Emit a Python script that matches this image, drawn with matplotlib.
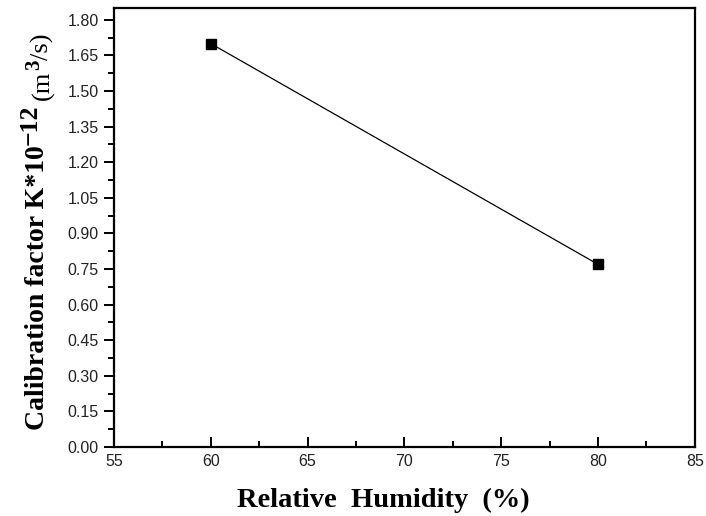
import matplotlib
import numpy as np

matplotlib.use("Agg")

from matplotlib import pyplot as plt  # noqa: E402
from matplotlib.ticker import MultipleLocator  # noqa: E402

humidity = [60, 80]
calib_factor = [1.70, 0.77]

x_ticks = [55, 60, 65, 70, 75, 80, 85]
y_ticks = np.round(np.arange(0, 1.81, 0.15), 2)

W, H = 706, 516

fig = plt.figure(figsize=(W / 100, H / 100), dpi=100)
ax = fig.add_axes([0.1615, 0.1337, 0.8225, 0.8508])

ax.plot(humidity, calib_factor, color="black", linewidth=0.9,
        marker="s", markersize=7, markerfacecolor="black")

ax.set_xlim(55, 85)
ax.set_ylim(0, 1.85)
ax.set_xticks(x_ticks)
ax.set_yticks(y_ticks)
ax.set_yticklabels([f"{v:.2f}" for v in y_ticks])
ax.xaxis.set_minor_locator(MultipleLocator(2.5))
ax.yaxis.set_minor_locator(MultipleLocator(0.075))

for side in ["top", "bottom", "left", "right"]:
    ax.spines[side].set_linewidth(1.6)

ax.tick_params(axis="x", which="both", direction="in", top=False, width=1.4,
               labelsize=11.5, pad=5, labelcolor="#222222")
ax.tick_params(axis="x", which="major", length=7)
ax.tick_params(axis="x", which="minor", length=4)
ax.tick_params(axis="y", which="both", direction="out", right=False, width=1.4,
               labelsize=11.5, pad=4, labelcolor="#222222")
ax.tick_params(axis="y", which="major", length=7)
ax.tick_params(axis="y", which="minor", length=4)

for lab in ax.get_xticklabels() + ax.get_yticklabels():
    lab.set_fontfamily("Liberation Sans")

# x label, placed in pixels
fig.text(383.5 / W, 1 - 507 / H, "Relative  Humidity  (%)",
         family="Liberation Serif", fontweight="bold", fontsize=20.5,
         ha="center", va="baseline")

# y label built from pieces so the superscripts keep their size
pieces = [
    ("Calibration factor K*10", "bold", 20, 44, 0),
    ("\u221212", "bold", 18.5, 37, 0),
    ("(m", "normal", 19, 49, 5),
    ("3", "bold", 15, 39, 0),
    ("/s)", "normal", 19, 49, 0),
]
renderer = fig.canvas.get_renderer()
y_pos = H - 430
for text, weight, size, x_base, gap in pieces:
    y_pos += gap
    t = fig.text(x_base / W, y_pos / H, text, family="Liberation Serif",
                 fontweight=weight, fontsize=size, rotation=90,
                 rotation_mode="anchor", ha="left", va="baseline")
    y_pos += t.get_window_extent(renderer).height

plt.savefig("out.png", dpi=100)
plt.close(fig)
